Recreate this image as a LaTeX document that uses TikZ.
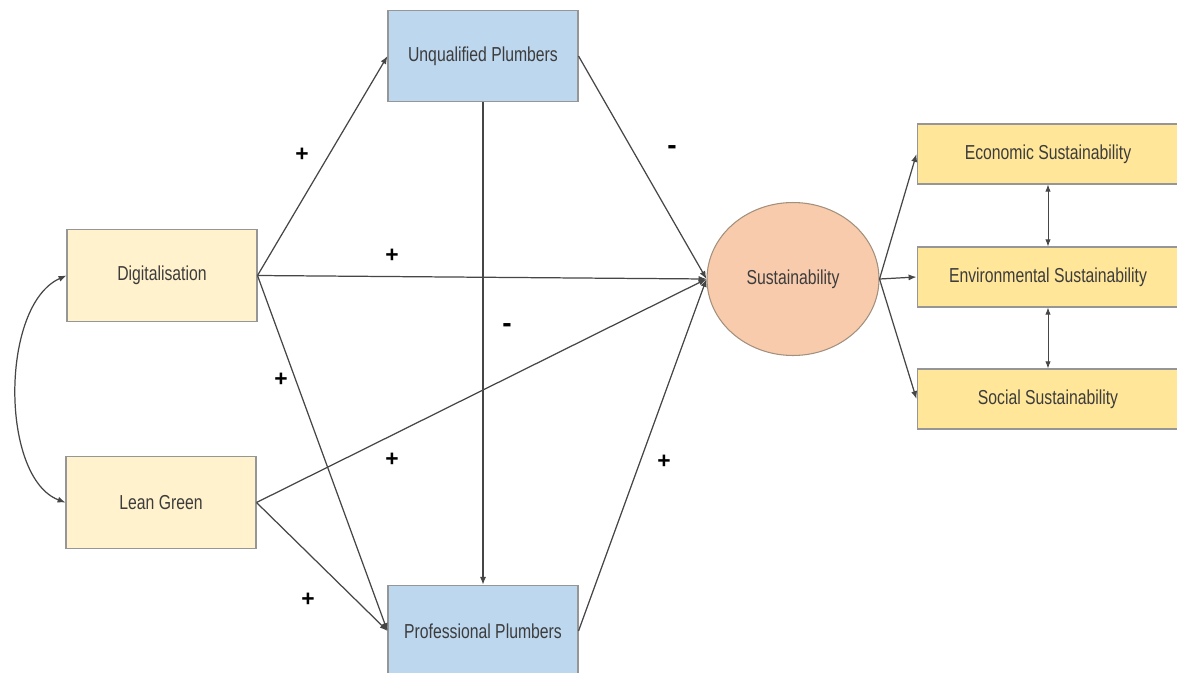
\documentclass[tikz,border=0pt]{standalone}
\usepackage{fontspec}
\setmainfont{Liberation Sans}
\newfontfamily\narrowfont[FakeStretch=0.78]{Liberation Sans}
\definecolor{paleyellow}{RGB}{255, 242, 204}
\definecolor{goldyellow}{RGB}{255, 230, 153}
\definecolor{paleblue}{RGB}{189, 215, 238}
\definecolor{salmon1}{RGB}{248, 203, 173}
\definecolor{linegray}{RGB}{70, 70, 70}
\definecolor{bordergray}{RGB}{150, 150, 150}
\definecolor{textgray}{RGB}{60, 60, 60}
\usepackage{tikz}
\usetikzlibrary{shapes.geometric, arrows.meta, positioning}

\begin{document}
\begin{tikzpicture}[
  x=0.02cm, y=-0.02cm,
  box/.style={draw=bordergray, line width=0.6pt, minimum width=3.8cm, minimum height=1.83cm,
              font=\narrowfont\fontsize{11.5}{13}\selectfont, text=textgray, inner sep=2pt},
  dimbox/.style={draw=bordergray, line width=0.6pt, fill=goldyellow, minimum width=5.24cm,
              minimum height=1.2cm, font=\narrowfont\fontsize{11.5}{13}\selectfont, text=textgray},
  arr/.style={draw=linegray, line width=0.7pt, -{Latex[length=4.5pt,width=3.5pt]}},
  sign/.style={font=\fontsize{13}{15}\selectfont\bfseries, text=black},
]
\useasboundingbox (0,0) rectangle (1177,673);
\fill[white] (0,0) rectangle (1177,673);

% left side
\node[box, fill=paleyellow] (dig) at (162,275.5) {Digitalisation};
\node[box, fill=paleyellow] (lean) at (161,502.5) {Lean Green};

% plumbers
\node[box, fill=paleblue] (unq) at (483,56) {Unqualified Plumbers};
\node[box, fill=paleblue] (prof) at (483,631) {Professional Plumbers};

% sustainability
\node[ellipse, draw=bordergray!70!brown, line width=0.6pt, fill=salmon1, minimum width=3.44cm,
      minimum height=3.06cm, font=\narrowfont\fontsize{11.5}{13}\selectfont, text=textgray]
      (sus) at (793,279) {Sustainability};

% dimensions
\node[dimbox] (eco) at (1048,154) {Economic Sustainability};
\node[dimbox] (env) at (1048,277) {Environmental Sustainability};
\node[dimbox] (soc) at (1048,399) {Social Sustainability};

% paths
\draw[arr] (dig.east) -- (unq.west);
\draw[arr] (dig.east) -- (sus.west);
\draw[arr] (dig.east) -- (prof.west);
\draw[arr] (lean.east) -- (sus.west);
\draw[arr] (lean.east) -- (prof.west);
\draw[arr] (unq.east) -- (sus.west);
\draw[arr] (unq.south) -- (prof.north);
\draw[arr] (prof.east) -- (sus.west);
\draw[arr, {Latex[length=4.5pt,width=3.5pt]}-{Latex[length=4.5pt,width=3.5pt]}]
  (dig.west) .. controls (0,305) and (0,478) .. (lean.west);

\draw[arr] (sus.east) -- (eco.west);
\draw[arr] (sus.east) -- (env.west);
\draw[arr] (sus.east) -- (soc.west);
\draw[arr, line width=0.5pt, {Latex[length=4pt,width=3pt]}-{Latex[length=4pt,width=3pt]}]
  (eco.south) -- (env.north);
\draw[arr, line width=0.5pt, {Latex[length=4pt,width=3pt]}-{Latex[length=4pt,width=3pt]}]
  (env.south) -- (soc.north);

% signs
\node[sign] (s1) at (302,155) {+};
\node[sign] (s2) at (392,256) {+};
\node[sign] (s3) at (281,380) {+};
\node[sign] (s4) at (392,460) {+};
\node[sign] (s5) at (308,600) {+};
\node[sign, font=\fontsize{16}{18}\selectfont\bfseries] (s6) at (672,150) {-};
\node[sign, font=\fontsize{16}{18}\selectfont\bfseries] (s7) at (507,328) {-};
\node[sign] (s8) at (664,462) {+};
\end{tikzpicture}
\end{document}
